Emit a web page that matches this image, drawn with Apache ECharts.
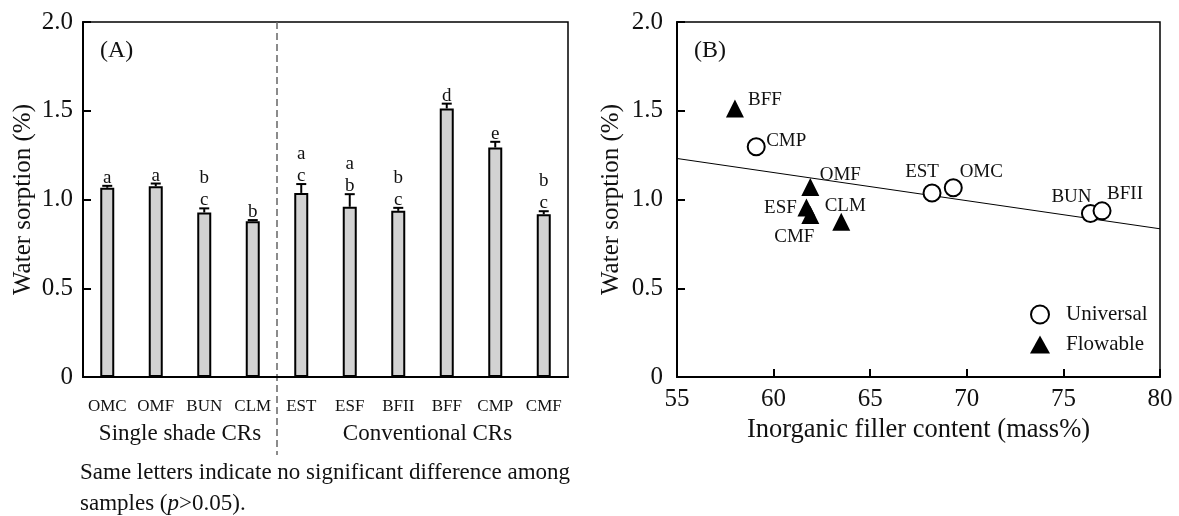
<!DOCTYPE html>
<html>
<head>
<meta charset="utf-8">
<script src="https://cdn.jsdelivr.net/npm/echarts@6/dist/echarts.min.js"></script>
<style>
  html, body { margin: 0; padding: 0; background: #fff; }
  #chart { width: 1179px; height: 516px; }
</style>
</head>
<body>
<div id="chart"></div>
<script>
// panel (A): water sorption per resin
const categories = ["OMC", "OMF", "BUN", "CLM", "EST", "ESF", "BFII", "BFF", "CMP", "CMF"];
const sorption = [1.066, 1.074, 0.927, 0.878, 1.037, 0.959, 0.936, 1.513, 1.293, 0.917];
const sd = [0.011, 0.016, 0.023, 0.006, 0.05, 0.071, 0.017, 0.027, 0.032, 0.017];
const letters = [["a"], ["a"], ["b", "c"], ["b"], ["a", "c"], ["a", "b"], ["b", "c"], ["d"], ["e"], ["b", "c"]];
const groups = ["Single shade CRs", "Conventional CRs"];
const groupSize = [4, 6];

// panel (B): sorption vs filler content
const universalNames = ["CMP", "EST", "OMC", "BUN", "BFII"];
const universalX = [59.1, 68.2, 69.3, 76.4, 77.0];
const universalY = [1.297, 1.037, 1.066, 0.921, 0.936];
const flowableNames = ["BFF", "OMF", "ESF", "CMF", "CLM"];
const flowableX = [58.0, 61.9, 61.7, 61.9, 63.5];
const flowableY = [1.513, 1.071, 0.955, 0.912, 0.874];
const trendX = [55, 80];
const trendY = [1.231, 0.835];

const FONT = "'Liberation Serif', 'Times New Roman', serif";

// where each point name sits relative to its marker (style only)
const labelOffset = {
  BFF: [30, -8], CMP: [30, -6], OMF: [30, -12], ESF: [-26, 1], CMF: [-16, 22],
  CLM: [4, -16], EST: [-10, -21], OMC: [28, -16], BUN: [-19, -17], BFII: [23, -17],
};

const chart = echarts.init(document.getElementById("chart"));

const tickFmt = (v) => (v === 0 ? "0" : v.toFixed(1));

function yAxisFor(gridIndex, labelMargin, nameGap) {
  return {
    gridIndex,
    type: "value",
    min: 0,
    max: 2,
    interval: 0.5,
    name: "Water sorption (%)",
    nameLocation: "middle",
    nameGap,
    nameTextStyle: { fontFamily: FONT, fontSize: 25, color: "#111" },
    axisLine: { show: true, lineStyle: { color: "#000", width: 2 } },
    axisTick: { show: true, inside: true, length: 8, lineStyle: { color: "#000", width: 2 } },
    axisLabel: { formatter: tickFmt, fontFamily: FONT, fontSize: 25, color: "#111", margin: labelMargin },
    splitLine: { show: false },
  };
}

function pointData(names, xs, ys) {
  return names.map((n, i) => ({
    name: n,
    value: [xs[i], ys[i]],
    label: { offset: labelOffset[n] },
  }));
}

const pointLabel = {
  show: true,
  position: "inside",
  formatter: "{b}",
  fontFamily: FONT,
  fontSize: 19,
  color: "#111",
};

chart.setOption({
  animation: false,
  grid: [
    { left: 83, top: 22, width: 485, height: 355, show: true, borderColor: "#000", borderWidth: 1.5, backgroundColor: "transparent" },
    { left: 677, top: 22, width: 483, height: 355, show: true, borderColor: "#000", borderWidth: 1.5, backgroundColor: "transparent" },
  ],
  legend: {
    data: ["Universal", "Flowable"],
    orient: "vertical",
    left: 1030,
    top: 304,
    padding: 0,
    itemWidth: 20,
    itemHeight: 18,
    itemGap: 9,
    textStyle: { fontFamily: FONT, fontSize: 21, color: "#111", padding: [0, 0, 0, 11] },
  },
  xAxis: [
    {
      gridIndex: 0,
      type: "category",
      data: categories,
      axisLine: { lineStyle: { color: "#000", width: 2 } },
      axisTick: { show: false },
      axisLabel: { fontFamily: FONT, fontSize: 17, color: "#111", margin: 21, interval: 0 },
    },
    {
      gridIndex: 1,
      type: "value",
      min: 55,
      max: 80,
      interval: 5,
      name: "Inorganic filler content (mass%)",
      nameLocation: "middle",
      nameGap: 37,
      nameTextStyle: { fontFamily: FONT, fontSize: 26.5, color: "#111" },
      axisLine: { lineStyle: { color: "#000", width: 2 } },
      axisTick: { inside: true, length: 8, lineStyle: { color: "#000", width: 2 } },
      axisLabel: { fontFamily: FONT, fontSize: 25, color: "#111", margin: 10 },
      splitLine: { show: false },
    },
  ],
  yAxis: [yAxisFor(0, 10, 47), yAxisFor(1, 14, 53)],
  series: [
    {
      type: "bar",
      xAxisIndex: 0,
      yAxisIndex: 0,
      data: sorption,
      barWidth: 14,
      itemStyle: { color: "#d2d2d2", borderColor: "#000", borderWidth: 2 },
    },
    {
      type: "custom",
      xAxisIndex: 0,
      yAxisIndex: 0,
      z: 5,
      data: sorption.map((v, i) => [i, v + sd[i]]),
      renderItem(params, api) {
        const i = api.value(0);
        const base = api.coord([i, sorption[i]]);
        const cap = api.coord([i, api.value(1)]);
        const line = { stroke: "#000", lineWidth: 2 };
        return {
          type: "group",
          children: [
            { type: "line", shape: { x1: cap[0], y1: base[1], x2: cap[0], y2: cap[1] }, style: line },
            { type: "line", shape: { x1: cap[0] - 5, y1: cap[1], x2: cap[0] + 5, y2: cap[1] }, style: line },
            {
              type: "text",
              x: cap[0],
              y: cap[1] + 3,
              style: {
                text: letters[i].join("\n"),
                align: "center",
                verticalAlign: "bottom",
                fontFamily: FONT,
                fontSize: 19,
                lineHeight: 22,
                fill: "#111",
              },
            },
          ],
        };
      },
    },
    {
      type: "line",
      xAxisIndex: 1,
      yAxisIndex: 1,
      data: trendX.map((x, i) => [x, trendY[i]]),
      symbol: "none",
      lineStyle: { color: "#000", width: 1 },
      z: 1,
      silent: true,
    },
    {
      name: "Universal",
      type: "scatter",
      xAxisIndex: 1,
      yAxisIndex: 1,
      symbol: "circle",
      symbolSize: 17,
      itemStyle: { color: "#fff", borderColor: "#000", borderWidth: 2, opacity: 1 },
      label: pointLabel,
      data: pointData(universalNames, universalX, universalY),
      z: 3,
    },
    {
      name: "Flowable",
      type: "scatter",
      xAxisIndex: 1,
      yAxisIndex: 1,
      symbol: "triangle",
      symbolSize: 18,
      itemStyle: { color: "#000", opacity: 1 },
      label: pointLabel,
      data: pointData(flowableNames, flowableX, flowableY),
      z: 4,
    },
  ],
});

// separator, group names and the note below panel (A)
const px = (idx) => chart.convertToPixel({ xAxisIndex: 0 }, idx);
const sepX = (px(groupSize[0] - 1) + px(groupSize[0])) / 2;
let start = 0;
const groupText = groups.map((g, k) => {
  const mid = (px(start) + px(start + groupSize[k] - 1)) / 2;
  start += groupSize[k];
  return {
    type: "text",
    x: mid + (k === 1 ? 5 : 0),
    y: 434,
    style: { text: g, align: "center", verticalAlign: "middle", fontFamily: FONT, fontSize: 23, fill: "#111" },
  };
});

chart.setOption({
  graphic: [
    {
      type: "line",
      shape: { x1: sepX, y1: 22, x2: sepX, y2: 455 },
      style: { stroke: "#666", lineWidth: 1.5, lineDash: [7, 4] },
    },
    ...groupText,
    { type: "text", left: 100, top: 39, style: { text: "(A)", fontFamily: FONT, fontSize: 24, fill: "#111" } },
    { type: "text", left: 694, top: 39, style: { text: "(B)", fontFamily: FONT, fontSize: 24, fill: "#111" } },
    {
      type: "text",
      left: 80,
      top: 457,
      style: {
        text: "{n|Same letters indicate no significant difference among}\n{n|samples (}{i|p}{n|>0.05).}",
        lineHeight: 31,
        rich: {
          n: { fontFamily: FONT, fontSize: 23, fill: "#111", lineHeight: 31 },
          i: { fontFamily: FONT, fontSize: 23, fontStyle: "italic", fill: "#111", lineHeight: 31 },
        },
      },
    },
  ],
});
</script>
</body>
</html>
